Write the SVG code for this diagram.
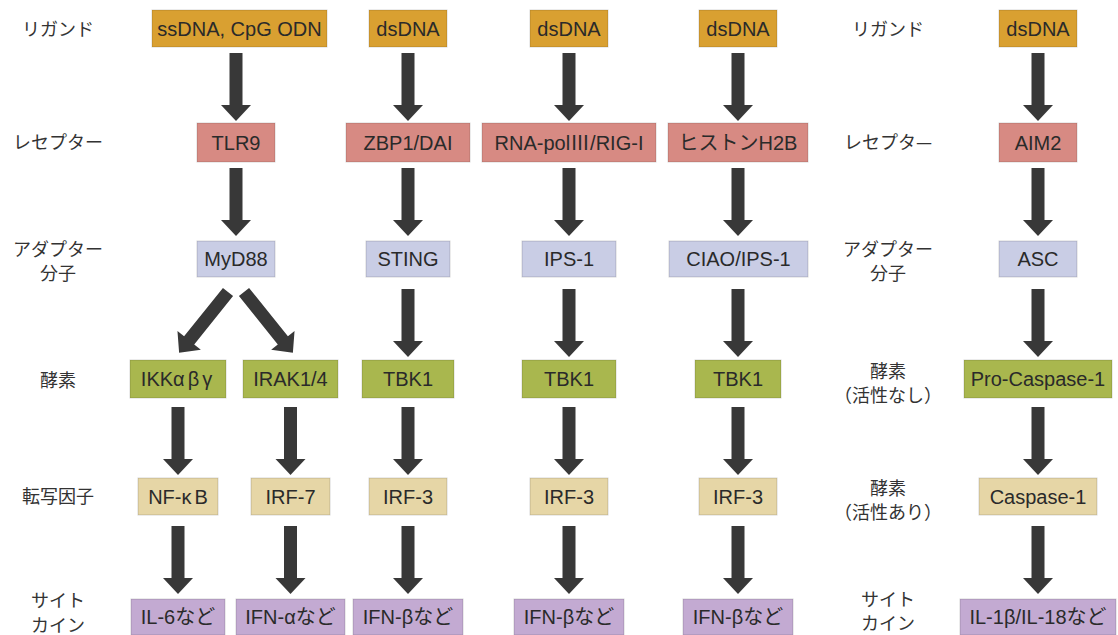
<svg xmlns="http://www.w3.org/2000/svg" xmlns:xlink="http://www.w3.org/1999/xlink" width="1118" height="635" viewBox="0 0 1118 635">
<style>
.lbl{font-family:"Noto Sans CJK JP","Noto Sans",sans-serif;font-size:18px;fill:#333;text-anchor:middle}
.t{font-family:"Liberation Sans","Noto Sans CJK JP",sans-serif;font-size:20px;fill:#2a2a2a;text-anchor:middle}
.cjk{font-family:"Noto Sans CJK JP",sans-serif}
.box{stroke:#000;stroke-opacity:.16;stroke-width:1}
.lig{fill:#D9A031}
.rec{fill:#D78A83}
.ada{fill:#C9CDE5}
.enz{fill:#A9B74E}
.tf{fill:#E6D6A6}
.cyt{fill:#C3AAD2}
.arr{fill:#383838}
</style>
<defs>
<path id="arr" d="M-6.5,0 H6.5 V52 H15 L0,68 L-15,52 H-6.5 Z"/>
<path id="arrd" d="M-6.5,0 H6.5 V62 H15 L0,78 L-15,62 H-6.5 Z"/>
</defs>
<rect width="1118" height="635" fill="#fff"/>

<g id="labels">
<text class="lbl" x="58" y="35.5">リガンド</text>
<text class="lbl" x="58" y="149">レセプター</text>
<text class="lbl" x="58" y="255.5">アダプター</text>
<text class="lbl" x="58" y="280">分子</text>
<text class="lbl" x="58" y="386.5">酵素</text>
<text class="lbl" x="58" y="502.5">転写因子</text>
<text class="lbl" x="58" y="607">サイト</text>
<text class="lbl" x="58" y="632">カイン</text>
<text class="lbl" x="888" y="35.5">リガンド</text>
<text class="lbl" x="888" y="149">レセプタ—</text>
<text class="lbl" x="888" y="255.5">アダプター</text>
<text class="lbl" x="888" y="280">分子</text>
<text class="lbl" x="888" y="377.5">酵素</text>
<text class="lbl" x="888" y="401.5">（活性なし）</text>
<text class="lbl" x="888" y="494.5">酵素</text>
<text class="lbl" x="888" y="518.5">（活性あり）</text>
<text class="lbl" x="888" y="606">サイト</text>
<text class="lbl" x="888" y="630">カイン</text>
</g>

<g id="connectors" class="arr">
<use href="#arr" x="236" y="53"/>
<use href="#arr" x="236" y="168"/>
<use href="#arrd" transform="translate(228,292) rotate(38.8)"/>
<use href="#arrd" transform="translate(244,292) rotate(-38.8)"/>
<use href="#arr" x="178" y="407"/>
<use href="#arr" x="178" y="526"/>
<use href="#arr" x="290.5" y="407"/>
<use href="#arr" x="290.5" y="526"/>
<use href="#arr" x="408" y="53"/>
<use href="#arr" x="408" y="168"/>
<use href="#arr" x="408" y="289"/>
<use href="#arr" x="408" y="407"/>
<use href="#arr" x="408" y="526"/>
<use href="#arr" x="569" y="53"/>
<use href="#arr" x="569" y="168"/>
<use href="#arr" x="569" y="289"/>
<use href="#arr" x="569" y="407"/>
<use href="#arr" x="569" y="526"/>
<use href="#arr" x="738" y="53"/>
<use href="#arr" x="738" y="168"/>
<use href="#arr" x="738" y="289"/>
<use href="#arr" x="738" y="407"/>
<use href="#arr" x="738" y="526"/>
<use href="#arr" x="1038" y="53"/>
<use href="#arr" x="1038" y="168"/>
<use href="#arr" x="1038" y="289"/>
<use href="#arr" x="1038" y="407"/>
<use href="#arr" x="1038" y="526"/>
</g>

<g id="n-ssdna"><rect class="box lig" x="152" y="10" width="175" height="37"/><text class="t" x="239.5" y="35.5">ssDNA, CpG ODN</text></g>
<g id="n-dsdna2"><rect class="box lig" x="369" y="10" width="78" height="37"/><text class="t" x="408" y="35.5">dsDNA</text></g>
<g id="n-dsdna3"><rect class="box lig" x="530" y="10" width="78" height="37"/><text class="t" x="569" y="35.5">dsDNA</text></g>
<g id="n-dsdna4"><rect class="box lig" x="699" y="10" width="78" height="37"/><text class="t" x="738" y="35.5">dsDNA</text></g>
<g id="n-dsdna6"><rect class="box lig" x="999" y="10" width="78" height="37"/><text class="t" x="1038" y="35.5">dsDNA</text></g>

<g id="n-tlr9"><rect class="box rec" x="197" y="123" width="78" height="39"/><text class="t" x="236" y="149.5">TLR9</text></g>
<g id="n-zbp1"><rect class="box rec" x="346" y="123" width="124" height="39"/><text class="t" x="408" y="149.5">ZBP1/DAI</text></g>
<g id="n-rnapol"><rect class="box rec" x="482" y="123" width="174" height="39"/><text class="t" x="569" y="149.5">RNA-pol<tspan class="cjk">Ⅲ</tspan>/RIG-I</text></g>
<g id="n-h2b"><rect class="box rec" x="668" y="123" width="140" height="39"/><text class="t" x="738" y="149.5">ヒストンH2B</text></g>
<g id="n-aim2"><rect class="box rec" x="999" y="123" width="78" height="39"/><text class="t" x="1038" y="149.5">AIM2</text></g>

<g id="n-myd88"><rect class="box ada" x="197" y="241" width="78" height="36"/><text class="t" x="236" y="266">MyD88</text></g>
<g id="n-sting"><rect class="box ada" x="366" y="241" width="84" height="36"/><text class="t" x="408" y="266">STING</text></g>
<g id="n-ips1"><rect class="box ada" x="522" y="241" width="94" height="36"/><text class="t" x="569" y="266">IPS-1</text></g>
<g id="n-ciao"><rect class="box ada" x="669" y="241" width="139" height="36"/><text class="t" x="738.5" y="266">CIAO/IPS-1</text></g>
<g id="n-asc"><rect class="box ada" x="999" y="241" width="78" height="36"/><text class="t" x="1038" y="266">ASC</text></g>

<g id="n-ikk"><rect class="box enz" x="130" y="360" width="96" height="38"/><text class="t" x="178" y="386">IKK<tspan letter-spacing="3">αβγ</tspan></text></g>
<g id="n-irak"><rect class="box enz" x="243" y="360" width="95" height="38"/><text class="t" x="290.5" y="386">IRAK1/4</text></g>
<g id="n-tbk1a"><rect class="box enz" x="362" y="360" width="92" height="38"/><text class="t" x="408" y="386">TBK1</text></g>
<g id="n-tbk1b"><rect class="box enz" x="522" y="360" width="94" height="38"/><text class="t" x="569" y="386">TBK1</text></g>
<g id="n-tbk1c"><rect class="box enz" x="695" y="360" width="86" height="38"/><text class="t" x="738" y="386">TBK1</text></g>
<g id="n-procasp"><rect class="box enz" x="964" y="360" width="148" height="38"/><text class="t" x="1038" y="386">Pro-Caspase-1</text></g>

<g id="n-nfkb"><rect class="box tf" x="138" y="478" width="80" height="37"/><text class="t" x="178" y="503.5">NF-<tspan letter-spacing="3">κ</tspan>B</text></g>
<g id="n-irf7"><rect class="box tf" x="251" y="478" width="79" height="37"/><text class="t" x="290.5" y="503.5">IRF-7</text></g>
<g id="n-irf3a"><rect class="box tf" x="369" y="478" width="78" height="37"/><text class="t" x="408" y="503.5">IRF-3</text></g>
<g id="n-irf3b"><rect class="box tf" x="530" y="478" width="78" height="37"/><text class="t" x="569" y="503.5">IRF-3</text></g>
<g id="n-irf3c"><rect class="box tf" x="699" y="478" width="78" height="37"/><text class="t" x="738" y="503.5">IRF-3</text></g>
<g id="n-casp1"><rect class="box tf" x="979" y="478" width="118" height="37"/><text class="t" x="1038" y="503.5">Caspase-1</text></g>

<g id="n-il6"><rect class="box cyt" x="131" y="599" width="94" height="36"/><text class="t" x="178" y="624">IL-6など</text></g>
<g id="n-ifna"><rect class="box cyt" x="236" y="599" width="109" height="36"/><text class="t" x="290.5" y="624">IFN-αなど</text></g>
<g id="n-ifnb1"><rect class="box cyt" x="353" y="599" width="110" height="36"/><text class="t" x="408" y="624">IFN-βなど</text></g>
<g id="n-ifnb2"><rect class="box cyt" x="514" y="599" width="110" height="36"/><text class="t" x="569" y="624">IFN-βなど</text></g>
<g id="n-ifnb3"><rect class="box cyt" x="683" y="599" width="110" height="36"/><text class="t" x="738" y="624">IFN-βなど</text></g>
<g id="n-il1b"><rect class="box cyt" x="960" y="599" width="156" height="36"/><text class="t" x="1038" y="624">IL-1β/IL-18など</text></g>
</svg>
